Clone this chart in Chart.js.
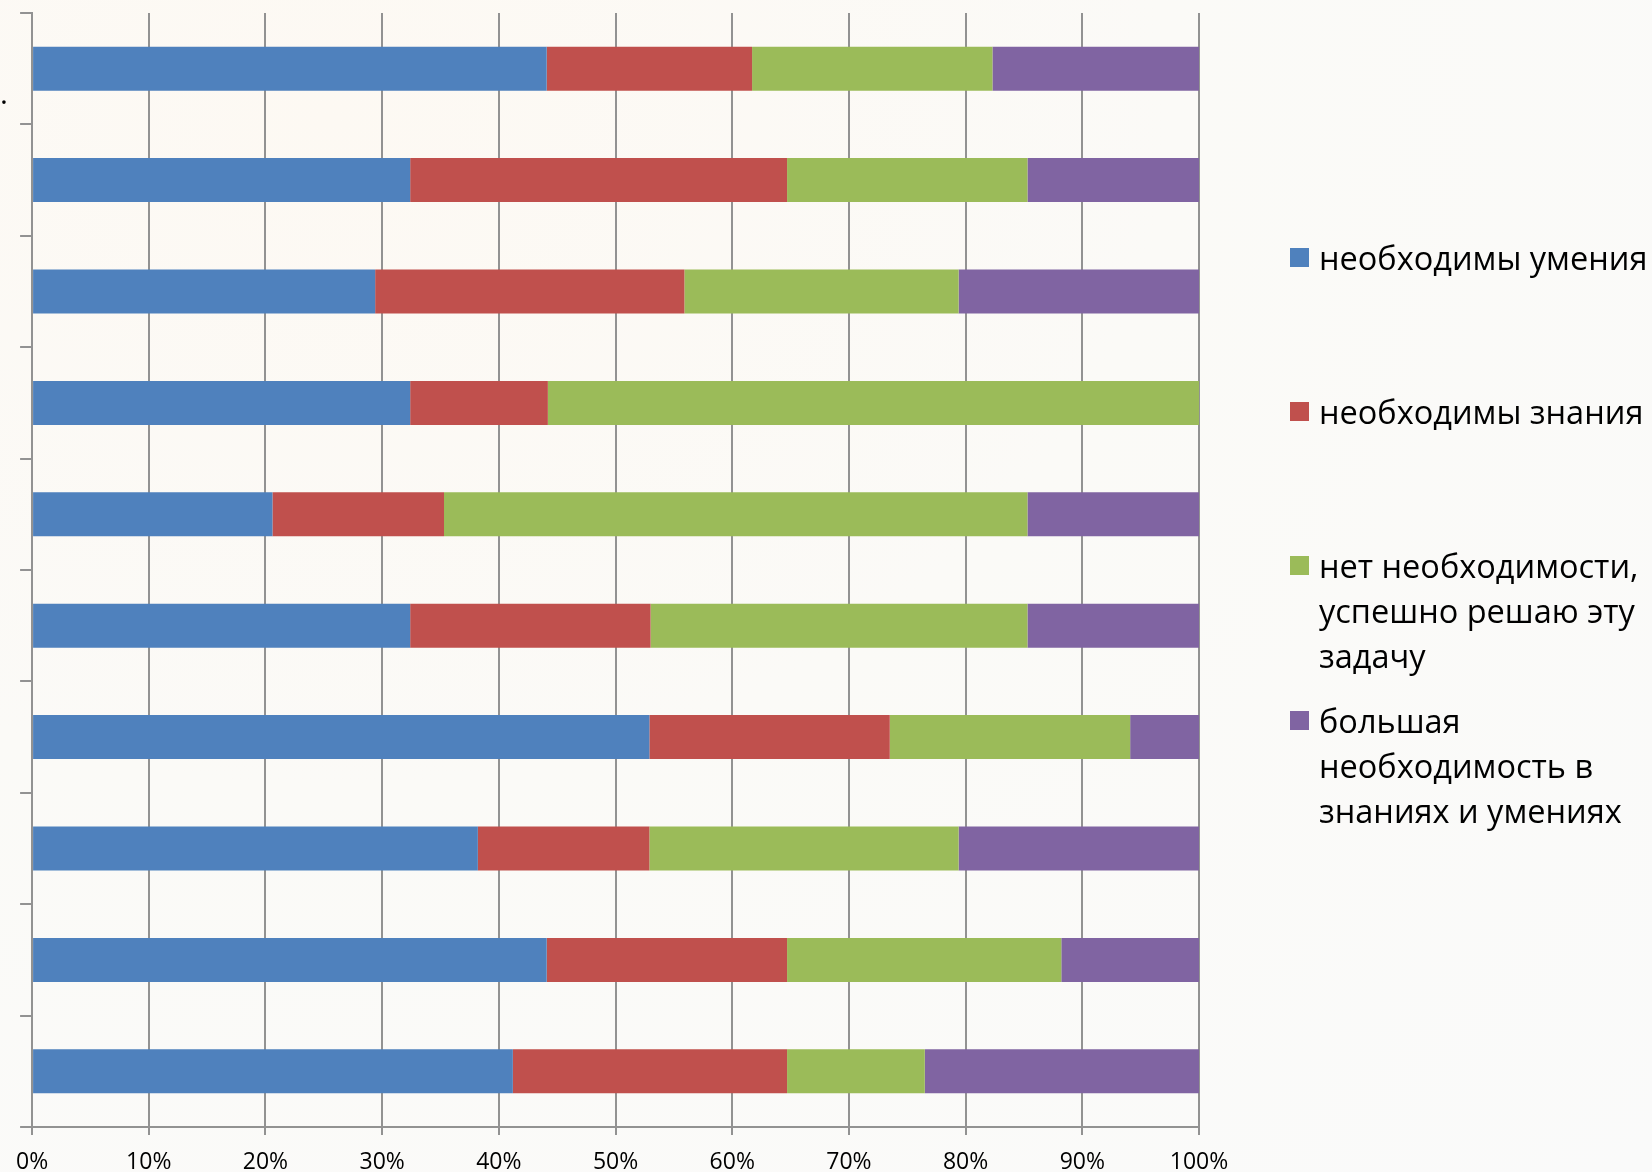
<!DOCTYPE html>
<html>
<head>
<meta charset="utf-8">
<script src="https://cdn.jsdelivr.net/npm/chart.js@4/dist/chart.umd.min.js"></script>
<style>
    html, body {
        margin: 0;
        padding: 0;
    }
    body {
        width: 1652px;
        height: 1172px;
        overflow: hidden;
        position: relative;
        background: radial-gradient(ellipse at 20% 10%, #fdf9f3 0%, #fbfaf7 45%, #fafafa 100%);
        font-family: 'Open Sans', sans-serif;
    }
    canvas {
        display: block;
    }
    .dot {
        position: absolute;
        left: 0;
        top: 72px;
        font-size: 30px;
        color: #000;
    }
    .legend-item {
        position: absolute;
        left: 1290px;
        font-size: 32.5px;
        line-height: 45px;
        color: #000;
    }
    .legend-item .box {
        position: absolute;
        left: 0;
        top: 13px;
        width: 19px;
        height: 19px;
    }
    .legend-item .txt {
        margin-left: 29px;
        white-space: nowrap;
    }
</style>
</head>
<body>
<!-- canvas is a bit taller than the window: the tick labels sit on the bottom edge -->
<canvas id="BarChart" width="1652" height="1190"></canvas>
<span class="dot">.</span>
<div id="legend"></div>

<script>
// data (percent of answers)
var categories = ['1', '2', '3', '4', '5', '6', '7', '8', '9', '10'];
var seriesNames = [
    'необходимы умения',
    'необходимы знания',
    'нет необходимости,<br>успешно решаю эту<br>задачу',
    'большая<br>необходимость в<br>знаниях и умениях'
];
var skills = [44.1, 32.4, 29.4, 32.4, 20.6, 32.4, 52.9, 38.2, 44.1, 41.2];
var knowledge = [17.6, 32.3, 26.5, 11.8, 14.7, 20.6, 20.6, 14.7, 20.6, 23.5];
var noNeed = [20.6, 20.6, 23.5, 55.8, 50.0, 32.3, 20.6, 26.5, 23.5, 11.8];
var bigNeed = [17.7, 14.7, 20.6, 0, 14.7, 14.7, 5.9, 20.6, 11.8, 23.5];
var xTicks = [0, 10, 20, 30, 40, 50, 60, 70, 80, 90, 100];

var colors = ['#4F81BD', '#C0504D', '#9BBB59', '#8064A2'];
var gridColor = '#929292';

drawBarChart();
function drawBarChart() {
    var ctx = document.getElementById('BarChart');

    var seriesData = [skills, knowledge, noNeed, bigNeed];
    var datasets = seriesData.map(function (values, i) {
        return {
            label: seriesNames[i].replace(/<br>/g, ' '),
            data: values,
            backgroundColor: colors[i],
            borderWidth: 0,
            barPercentage: 0.395,
            categoryPercentage: 1
        };
    });

    const config = {
        type: 'bar',
        data: {
            labels: categories,
            datasets: datasets
        },
        options: {
            indexAxis: 'y',
            responsive: false,
            animation: false,
            devicePixelRatio: 1,
            layout: {
                padding: { left: 16, top: 13, right: 453, bottom: 0 }
            },
            plugins: {
                legend: { display: false },
                tooltip: { enabled: false }
            },
            scales: {
                x: {
                    type: 'linear',
                    stacked: true,
                    min: 0,
                    max: 100,
                    afterBuildTicks: function (axis) {
                        axis.ticks = xTicks.map(v => ({ value: v }));
                    },
                    ticks: {
                        callback: v => v + '%',
                        color: '#000',
                        padding: 16,
                        maxRotation: 0,
                        font: { family: 'Open Sans', size: 23, lineHeight: 1 }
                    },
                    grid: {
                        color: gridColor,
                        lineWidth: 2,
                        tickLength: 8
                    },
                    border: { color: gridColor, width: 2 }
                },
                y: {
                    stacked: true,
                    offset: true,
                    ticks: { display: false },
                    grid: {
                        offset: true,
                        drawOnChartArea: false,
                        drawTicks: true,
                        tickLength: 12,
                        color: gridColor,
                        lineWidth: 2
                    },
                    border: { color: gridColor, width: 2 }
                }
            }
        }
    };

    var myChart = new Chart(ctx, config);

    // legend on the right, like the original
    var legendTops = [235, 389, 543, 698];
    var legend = document.getElementById('legend');
    seriesNames.forEach(function (name, i) {
        var item = document.createElement('div');
        item.className = 'legend-item';
        item.style.top = legendTops[i] + 'px';
        item.innerHTML = '<span class="box" style="background:' + colors[i] + '"></span><div class="txt">' + name + '</div>';
        legend.appendChild(item);
    });
}
</script>
</body>
</html>
